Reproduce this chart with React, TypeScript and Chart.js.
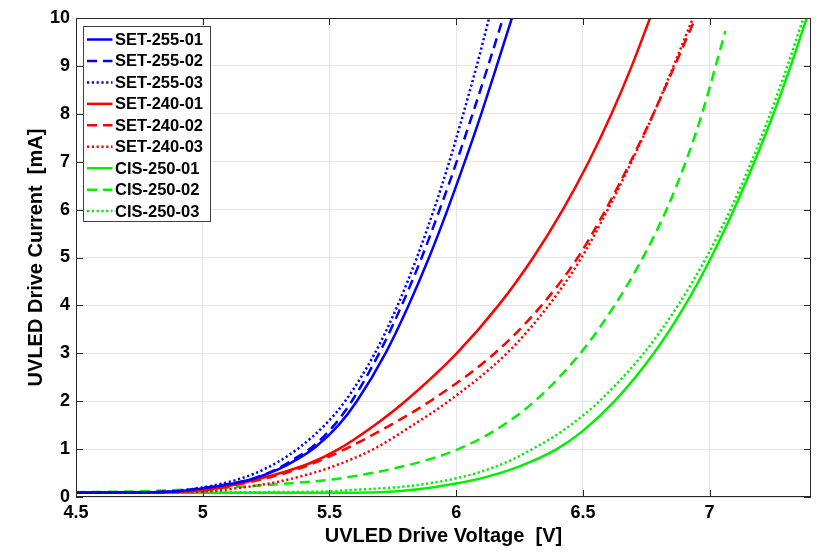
import { useEffect, useRef } from 'react';
import { Chart, registerables } from 'chart.js';

Chart.register(...registerables);

// Series names, in legend order
const seriesNames = [
  'SET-255-01', 'SET-255-02', 'SET-255-03',
  'SET-240-01', 'SET-240-02', 'SET-240-03',
  'CIS-250-01', 'CIS-250-02', 'CIS-250-03',
];

// Voltage [V] / current [mA]
const set25501V = [4.5, 4.8, 4.9, 5.0, 5.1, 5.2, 5.3, 5.37, 5.444, 5.536, 5.608, 5.721, 5.812, 5.893, 5.966, 6.034, 6.099, 6.16, 6.22];
const set25501I = [0.09, 0.1, 0.12, 0.18, 0.26, 0.38, 0.58, 0.78, 1.04, 1.5, 2, 3, 4, 5, 6, 7, 8, 9, 10];

const set25502V = [4.5, 4.8, 4.9, 5.0, 5.1, 5.2, 5.295, 5.359, 5.431, 5.519, 5.588, 5.696, 5.785, 5.864, 5.935, 6.002, 6.065, 6.126, 6.185];
const set25502I = [0.09, 0.1, 0.12, 0.19, 0.27, 0.39, 0.59, 0.79, 1.04, 1.5, 2, 3, 4, 5, 6, 7, 8, 9, 10];

const set25503V = [4.5, 4.8, 4.9, 5.0, 5.1, 5.2, 5.293, 5.381, 5.485, 5.562, 5.679, 5.769, 5.845, 5.912, 5.973, 6.028, 6.081, 6.13];
const set25503I = [0.09, 0.1, 0.13, 0.2, 0.31, 0.48, 0.72, 1.03, 1.52, 2, 3, 4, 5, 6, 7, 8, 9, 10];

const set24001V = [4.5, 4.8, 5.0, 5.1, 5.2, 5.3, 5.42, 5.536, 5.678, 5.799, 6.002, 6.167, 6.304, 6.421, 6.523, 6.613, 6.693, 6.765];
const set24001I = [0.1, 0.1, 0.14, 0.23, 0.35, 0.49, 0.7, 1, 1.5, 2, 3, 4, 5, 6, 7, 8, 9, 10];

const set24002V = [4.5, 4.8, 5.0, 5.1, 5.2, 5.3, 5.43, 5.562, 5.73, 5.897, 6.152, 6.337, 6.48, 6.59, 6.688, 6.778, 6.862, 6.944];
const set24002I = [0.1, 0.1, 0.14, 0.22, 0.33, 0.46, 0.69, 1, 1.47, 2, 3, 4, 5, 6, 7, 8, 9, 10];

const set24003V = [4.5, 4.8, 5.0, 5.1, 5.2, 5.3, 5.4, 5.5, 5.674, 5.82, 5.97, 6.2, 6.365, 6.495, 6.598, 6.692, 6.779, 6.858, 6.934];
const set24003I = [0.1, 0.1, 0.11, 0.16, 0.23, 0.32, 0.45, 0.61, 1, 1.47, 2, 3, 4, 5, 6, 7, 8, 9, 10];

const cis25001V = [4.5, 5.0, 5.5, 5.7, 5.85, 6.0, 6.12, 6.25, 6.397, 6.5, 6.625, 6.78, 6.903, 7.006, 7.096, 7.177, 7.252, 7.32, 7.383];
const cis25001I = [0.09, 0.09, 0.09, 0.1, 0.16, 0.28, 0.42, 0.64, 1, 1.38, 2, 3, 4, 5, 6, 7, 8, 9, 10];

const cis25002V = [4.5, 4.75, 5.0, 5.25, 5.5, 5.625, 5.75, 5.884, 6.009, 6.153, 6.31, 6.49, 6.625, 6.737, 6.83, 6.906, 6.97, 7.024, 7.062];
const cis25002I = [0.1, 0.12, 0.17, 0.25, 0.36, 0.46, 0.59, 0.77, 1, 1.39, 2, 3, 4, 5, 6, 7, 8, 9, 9.73];

const cis25003V = [4.5, 5.0, 5.45, 5.6, 5.8, 5.9, 6.0, 6.1, 6.2, 6.3, 6.4, 6.5, 6.565, 6.74, 6.875, 6.987, 7.082, 7.165, 7.239, 7.307, 7.37];
const cis25003I = [0.1, 0.1, 0.11, 0.15, 0.22, 0.29, 0.39, 0.53, 0.73, 1, 1.31, 1.7, 2, 3, 4, 5, 6, 7, 8, 9, 10];

// Axis ticks
const xTickValues = [4.5, 5, 5.5, 6, 6.5, 7];
const yTickValues = [0, 1, 2, 3, 4, 5, 6, 7, 8, 9, 10];

const BLUE = '#0000ff';
const RED = '#ff0000';
const GREEN = '#00f000';
const AXIS = '#262626';
const FONT = '"Liberation Sans", Arial, Helvetica, sans-serif';

const SOLID: number[] = [];
const DASHED = [10, 6];
const DOTTED = [2.2, 2.6];

const toPoints = (v: number[], i: number[]) => v.map((x, k) => ({ x, y: i[k] }));

const seriesData = [
  { v: set25501V, i: set25501I, color: BLUE, dash: SOLID },
  { v: set25502V, i: set25502I, color: BLUE, dash: DASHED },
  { v: set25503V, i: set25503I, color: BLUE, dash: DOTTED },
  { v: set24001V, i: set24001I, color: RED, dash: SOLID },
  { v: set24002V, i: set24002I, color: RED, dash: DASHED },
  { v: set24003V, i: set24003I, color: RED, dash: DOTTED },
  { v: cis25001V, i: cis25001I, color: GREEN, dash: SOLID },
  { v: cis25002V, i: cis25002I, color: GREEN, dash: DASHED },
  { v: cis25003V, i: cis25003I, color: GREEN, dash: DOTTED },
];

// MATLAB-style box, inward ticks and legend inside the axes
const matlabPlugin = {
  id: 'matlabFrame',
  afterDraw(chart: any) {
    const { ctx, chartArea: a, scales } = chart;
    ctx.save();
    ctx.setLineDash([]);
    ctx.strokeStyle = AXIS;
    ctx.lineWidth = 1;
    ctx.strokeRect(a.left + 0.5, a.top + 0.5, a.right - a.left - 1, a.bottom - a.top - 1);

    const tl = 7;
    ctx.beginPath();
    xTickValues.forEach((v) => {
      const px = Math.round(scales.x.getPixelForValue(v)) + 0.5;
      ctx.moveTo(px, a.bottom);
      ctx.lineTo(px, a.bottom - tl);
      ctx.moveTo(px, a.top);
      ctx.lineTo(px, a.top + tl);
    });
    yTickValues.forEach((v) => {
      const py = Math.round(scales.y.getPixelForValue(v)) + 0.5;
      ctx.moveTo(a.left, py);
      ctx.lineTo(a.left + tl, py);
      ctx.moveTo(a.right, py);
      ctx.lineTo(a.right - tl, py);
    });
    ctx.stroke();

    // legend
    const bx = 83, by = 26, bw = 127, bh = 195;
    ctx.fillStyle = '#ffffff';
    ctx.fillRect(bx, by, bw, bh);
    ctx.strokeStyle = '#404040';
    ctx.strokeRect(bx + 0.5, by + 0.5, bw, bh);
    ctx.font = `bold 16.5px ${FONT}`;
    ctx.textBaseline = 'middle';
    ctx.textAlign = 'left';
    chart.data.datasets.forEach((ds: any, k: number) => {
      const cy = 39.5 + k * 21.45;
      ctx.strokeStyle = ds.borderColor;
      ctx.lineWidth = ds.borderWidth;
      ctx.setLineDash(ds.borderDash);
      ctx.beginPath();
      ctx.moveTo(87, cy);
      ctx.lineTo(112.5, cy);
      ctx.stroke();
      ctx.setLineDash([]);
      ctx.fillStyle = '#000000';
      ctx.fillText(ds.label, 115, cy + 1);
    });
    ctx.restore();
  },
};

export default function App() {
  const canvasRef = useRef<HTMLCanvasElement>(null);

  useEffect(() => {
    if (!canvasRef.current) return;
    const chart = new Chart(canvasRef.current, {
      type: 'line',
      data: {
        datasets: seriesData.map((s, k) => ({
          label: seriesNames[k],
          data: toPoints(s.v, s.i),
          borderColor: s.color,
          backgroundColor: s.color,
          borderWidth: 2.5,
          borderDash: s.dash,
          pointRadius: 0,
          cubicInterpolationMode: 'monotone' as const,
          fill: false,
        })),
      },
      options: {
        responsive: false,
        animation: false,
        events: [],
        layout: { padding: { top: 18, right: 19, left: 0, bottom: 0 } },
        plugins: {
          legend: { display: false },
          tooltip: { enabled: false },
        },
        scales: {
          x: {
            type: 'linear',
            min: 4.5,
            max: 7.4,
            afterFit: (scale: any) => { scale.height = 61; },
            afterBuildTicks: (scale: any) => { scale.ticks = xTickValues.map((value) => ({ value })); },
            grid: { color: '#e6e6e6', lineWidth: 1, drawTicks: false },
            border: { display: false },
            ticks: {
              color: '#000000',
              padding: 5.5,
              maxRotation: 0,
              font: { family: FONT, size: 18, weight: 'bold' },
              callback: (value: any) => String(value),
            },
            title: {
              display: true,
              text: 'UVLED Drive Voltage  [V]',
              color: '#000000',
              font: { family: FONT, size: 20, weight: 'bold' },
              padding: { top: 0, bottom: 10 },
            },
          },
          y: {
            type: 'linear',
            min: 0,
            max: 10,
            afterFit: (scale: any) => { scale.width = 76; },
            afterBuildTicks: (scale: any) => { scale.ticks = yTickValues.map((value) => ({ value })); },
            grid: { color: '#e6e6e6', lineWidth: 1, drawTicks: false },
            border: { display: false },
            ticks: {
              color: '#000000',
              padding: 6,
              font: { family: FONT, size: 18, weight: 'bold' },
              callback: (value: any) => String(value),
            },
            title: {
              display: true,
              text: 'UVLED Drive Current  [mA]',
              color: '#000000',
              font: { family: FONT, size: 20, weight: 'bold' },
              padding: { top: 24, bottom: 0 },
            },
          },
        },
      },
      plugins: [matlabPlugin],
    });
    return () => chart.destroy();
  }, []);

  return (
    <div style={{ position: 'absolute', left: 0, top: 0, width: 830, height: 558, background: '#ffffff' }}>
      <canvas ref={canvasRef} width={830} height={558} />
    </div>
  );
}
